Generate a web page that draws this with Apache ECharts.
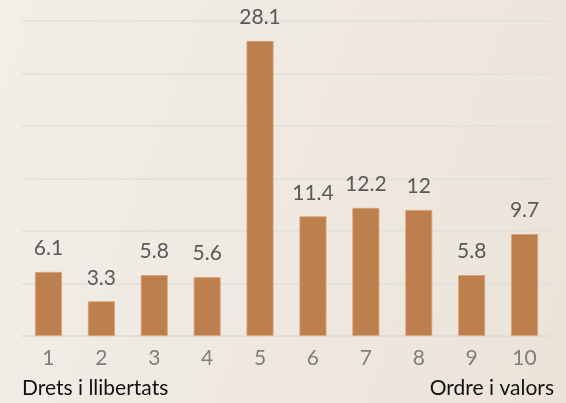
<!DOCTYPE html>
<html>
<head>
<meta charset="utf-8">
<script src="https://cdn.jsdelivr.net/npm/echarts@6/dist/echarts.min.js"></script>
<style>
  html, body { margin: 0; padding: 0; }
  #chart {
    width: 566px;
    height: 403px;
    background: linear-gradient(110deg, #f2eee8 0%, #eee8e0 55%, #ebe3d8 100%);
  }
</style>
</head>
<body>
<div id="chart"></div>
<script>
// dades del gràfic
const categories = ["1", "2", "3", "4", "5", "6", "7", "8", "9", "10"];
const values = [6.1, 3.3, 5.8, 5.6, 28.1, 11.4, 12.2, 12, 5.8, 9.7];
const leftNote = "Drets i llibertats";
const rightNote = "Ordre i valors";

const chart = echarts.init(document.getElementById("chart"));
const font = "Lato, 'Open Sans', sans-serif";

chart.setOption({
  animation: false,
  textStyle: { fontFamily: font },
  grid: { left: 22, right: 15, top: 21, bottom: 67 },
  xAxis: {
    type: "category",
    data: categories,
    axisLine: { show: true, lineStyle: { color: "#dfdcd8", width: 1.5 } },
    axisTick: { show: false },
    axisLabel: { color: "#7f7f7f", fontSize: 21, margin: 12, fontFamily: font },
  },
  yAxis: {
    type: "value",
    min: 0,
    max: 30,
    interval: 5,
    axisLabel: { show: false },
    axisLine: { show: false },
    axisTick: { show: false },
    splitLine: { lineStyle: { color: "#e2dfdb", width: 1.5 } },
  },
  series: [
    {
      type: "bar",
      data: values,
      barWidth: "51%",
      itemStyle: { color: "#bd7f4d", borderColor: "#d9a577", borderWidth: 0.8 },
      label: {
        show: true,
        position: "top",
        distance: 13,
        color: "#595959",
        fontSize: 21,
        fontFamily: font,
      },
    },
  ],
  graphic: [
    {
      type: "text",
      left: 22,
      top: 378,
      style: { text: leftNote, fill: "#111", font: "21px " + font },
    },
    {
      type: "text",
      right: 12,
      top: 378,
      style: { text: rightNote, fill: "#111", font: "21px " + font },
    },
  ],
});
</script>
</body>
</html>
